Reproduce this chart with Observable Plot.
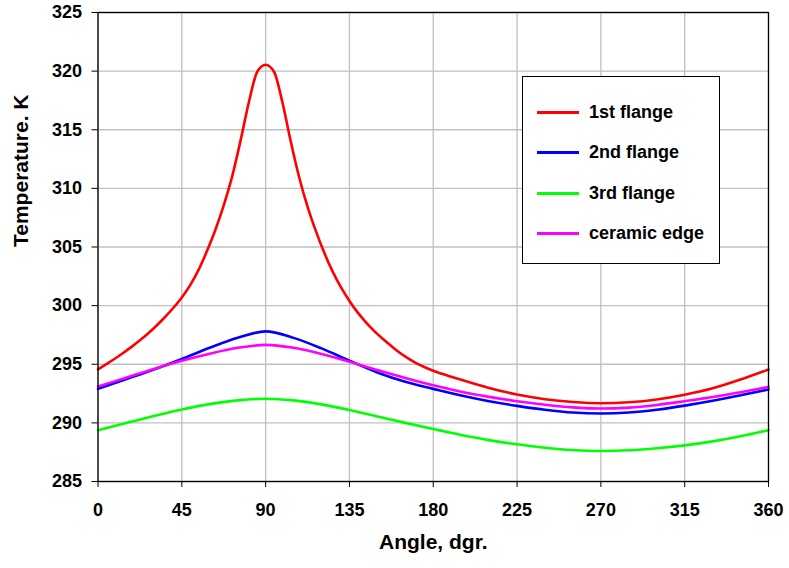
<!DOCTYPE html>
<html>
<head>
<meta charset="utf-8">
<script src="https://cdn.jsdelivr.net/npm/d3@7"></script>
<script src="https://cdn.jsdelivr.net/npm/@observablehq/plot@0.6"></script>
<style>
  body { margin: 0; background: #fff; }
  #wrap { position: relative; width: 789px; height: 568px; font-family: "Liberation Sans", Arial, sans-serif; }
  #legend { position: absolute; left: 522px; top: 76px; width: 196px; height: 186px; border: 1px solid #000; background: #fff; box-sizing: content-box; }
  .item { position: absolute; left: 0; height: 20px; font-weight: bold; font-size: 18px; color: #000; white-space: nowrap; }
  .item .sw { position: absolute; left: 14px; top: 9px; width: 42px; height: 2.5px; }
  .item .lb { position: absolute; left: 66px; top: 0; line-height: 20px; }
</style>
</head>
<body>
<div id="wrap">
  <div id="chart"></div>
  <div id="legend"></div>
</div>
<script>
// ---- data ----
const seriesNames = ["1st flange", "2nd flange", "3rd flange", "ceramic edge"];
const seriesColors = ["#ff0000", "#0000ff", "#00ff00", "#ff00ff"];

const redAngles = [0, 4.5, 9, 13.5, 18, 22.5, 27, 31.5, 36, 40.5, 45, 49.5, 54, 58.5, 63, 67.5, 72, 76.5, 81, 85.5, 90,
                   94.5, 99, 103.5, 108, 112.5, 117, 121.5, 126, 130.5, 135, 139.5, 144, 148.5, 153, 157.5, 162, 166.5, 171, 175.5, 180,
                   187.5, 195, 202.5, 210, 225, 240, 255, 270, 285, 300, 315, 330, 345, 360];
const redTemps  = [294.57, 295.01, 295.47, 295.96, 296.48, 297.04, 297.65, 298.31, 299.03, 299.82, 300.70, 301.75, 303.05, 304.65, 306.45, 308.55, 311.0, 314.05, 317.35, 319.95, 320.55,
                   319.95, 317.35, 314.0, 310.95, 308.45, 306.35, 304.5, 302.9, 301.55, 300.4, 299.4, 298.55, 297.8, 297.15, 296.55, 295.98, 295.5, 295.08, 294.74, 294.45,
                   294.05, 293.68, 293.32, 292.98, 292.42, 292.02, 291.78, 291.68, 291.76, 292.0, 292.4, 292.95, 293.7, 294.55];

const angles = [0, 15, 30, 45, 60, 75, 90, 105, 120, 135, 150, 165, 180, 195, 210, 225, 240, 255, 270, 285, 300, 315, 330, 345, 360];
const blueTemps    = [292.9, 293.72, 294.55, 295.45, 296.4, 297.25, 297.8, 297.25, 296.35, 295.3, 294.3, 293.5, 292.9, 292.33, 291.85, 291.45, 291.12, 290.88, 290.8, 290.88, 291.12, 291.47, 291.88, 292.35, 292.85];
const greenTemps   = [289.38, 289.98, 290.58, 291.14, 291.6, 291.92, 292.06, 291.92, 291.58, 291.1, 290.55, 290.0, 289.47, 288.97, 288.53, 288.17, 287.88, 287.68, 287.6, 287.66, 287.83, 288.08, 288.42, 288.86, 289.38];
const magentaTemps = [293.1, 293.85, 294.6, 295.3, 295.9, 296.4, 296.65, 296.4, 295.88, 295.22, 294.5, 293.82, 293.2, 292.66, 292.22, 291.85, 291.55, 291.32, 291.22, 291.3, 291.53, 291.85, 292.2, 292.62, 293.07];

const xTicks = [0, 45, 90, 135, 180, 225, 270, 315, 360];
const yTicks = [285, 290, 295, 300, 305, 310, 315, 320, 325];
const xTitle = "Angle, dgr.";
const yTitle = "Temperature. K";

// ---- build tables ----
const redData = redAngles.map((a, i) => ({angle: a, temp: redTemps[i]}));
const mk = (arr) => angles.map((a, i) => ({angle: a, temp: arr[i]}));
const lineSets = [redData, mk(blueTemps), mk(greenTemps), mk(magentaTemps)];

const chart = Plot.plot({
  width: 789,
  height: 568,
  marginLeft: 97.5,
  marginRight: 21,
  marginTop: 12,
  marginBottom: 87,
  style: {fontFamily: "'Liberation Sans', Arial, sans-serif", fontSize: "18px", fontWeight: "bold", color: "#000", background: "#fff"},
  x: {domain: [0, 360]},
  y: {domain: [285, 325]},
  marks: [
    Plot.gridX(xTicks, {stroke: "#c0c0c0", strokeOpacity: 1, strokeWidth: 1.3}),
    Plot.gridY(yTicks, {stroke: "#c0c0c0", strokeOpacity: 1, strokeWidth: 1.3}),
    ...lineSets.map((d, i) => Plot.line(d, {x: "angle", y: "temp", stroke: seriesColors[i], strokeWidth: 2.6, curve: "monotone-x"})),
    Plot.frame({stroke: "#000", strokeWidth: 1.3}),
    Plot.axisX({ticks: xTicks, tickSize: 6, tickPadding: 16, label: null, stroke: "#000"}),
    Plot.axisY({ticks: yTicks, tickSize: 6, tickPadding: 10, label: null, stroke: "#000"}),
    Plot.text([xTitle], {frameAnchor: "bottom", dy: 67, fontSize: 21, fontWeight: "bold", fill: "#000"}),
    Plot.text([yTitle], {frameAnchor: "left", dx: -76.5, rotate: -90, fontSize: 21, fontWeight: "bold", fill: "#000"})
  ]
});
document.getElementById("chart").appendChild(chart);

// ---- legend ----
const legend = document.getElementById("legend");
const legendTops = [25, 65, 106, 146];
seriesNames.forEach((name, i) => {
  const it = document.createElement("div");
  it.className = "item";
  it.style.top = legendTops[i] + "px";
  const sw = document.createElement("div");
  sw.className = "sw";
  sw.style.background = seriesColors[i];
  const lb = document.createElement("div");
  lb.className = "lb";
  lb.textContent = name;
  it.appendChild(sw);
  it.appendChild(lb);
  legend.appendChild(it);
});
</script>
</body>
</html>
